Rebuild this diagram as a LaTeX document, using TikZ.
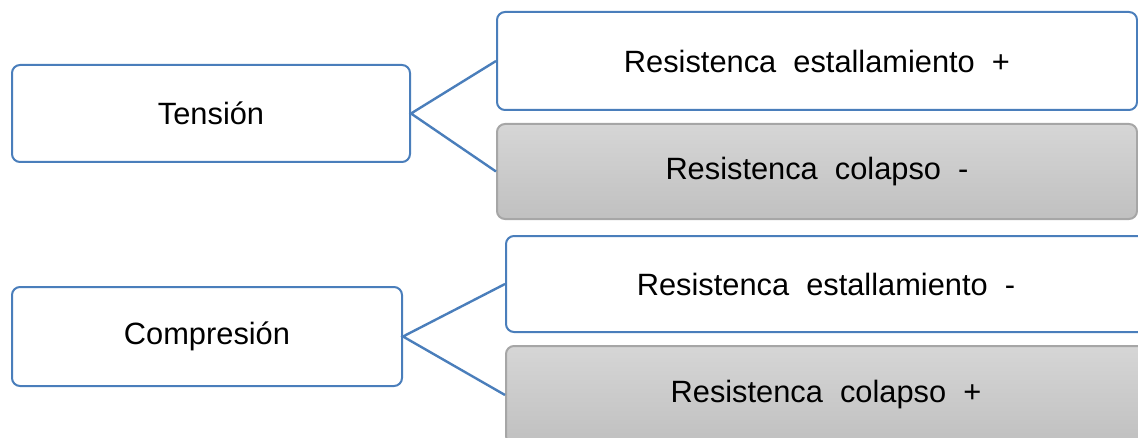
\documentclass[tikz,border=0pt]{standalone}
\usepackage{fontspec}
\setmainfont{Liberation Sans}
\usetikzlibrary{positioning}
\definecolor{lineB}{HTML}{4A7EBB}
\definecolor{greyE}{HTML}{A6A6A6}
\definecolor{greyT}{HTML}{D6D6D6}
\definecolor{greyB}{HTML}{C0C0C0}

\begin{document}
\begin{tikzpicture}[x=0.5pt, y=-0.5pt,
  font=\fontsize{15.4}{18}\selectfont, text=black,
  bx/.style ={draw, line width=1pt, align=center, inner sep=0pt, rounded corners=4pt},
  wh/.style ={bx, draw=lineB, fill=white},
  gy/.style ={bx, draw=greyE, top color=greyT, bottom color=greyB},
  ln/.style ={draw=lineB, line width=1.2pt}
]
\path[use as bounding box, clip] (0,0) rectangle (1138,438);

% left column
\node[wh, minimum width=199pt, minimum height=48.5pt] (ten)  at (211,113.5) {Tensión};
\node[wh, minimum width=195pt, minimum height=49.5pt] (comp) at (207,336.5) {Compresión};

% right column
\node[wh, minimum width=320pt, minimum height=49pt]   (estA) at (817,61)    {Resistenca\ \ estallamiento\ \ +};
\node[gy, minimum width=320pt, minimum height=47.5pt] (colA) at (817,171.5) {Resistenca\ \ colapso\ \ -};
\node[wh, minimum width=320pt, minimum height=48pt]   (estB) at (826,284)   {Resistenca\ \ estallamiento\ \ -};
\node[gy, minimum width=320pt, minimum height=49pt]   (colB) at (826,395)   {Resistenca\ \ colapso\ \ +};

\draw[ln] (estA.west) -- (ten.east) -- (colA.west);
\draw[ln] (estB.west) -- (comp.east) -- (colB.west);
\end{tikzpicture}
\end{document}
